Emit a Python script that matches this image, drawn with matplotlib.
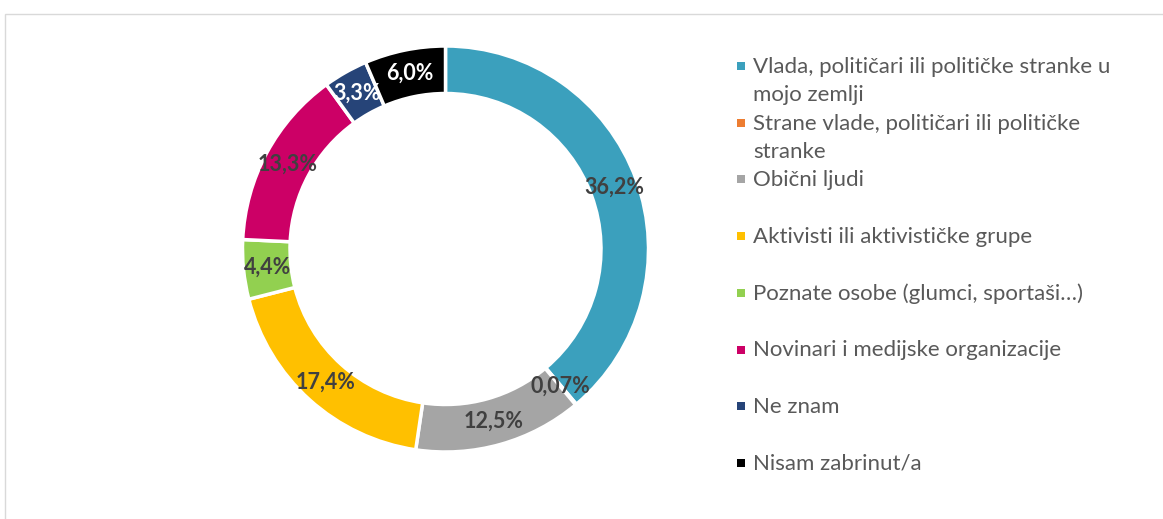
# -*- coding: utf-8 -*-
"""
donut chart - tko širi dezinformacije
"""
import matplotlib.pyplot as plt
from matplotlib.patches import Rectangle

labels = ["Vlada, političari ili političke stranke u\nmojo zemlji",
          "Strane vlade, političari ili političke\nstranke",
          "Obični ljudi",
          "Aktivisti ili aktivističke grupe",
          "Poznate osobe (glumci, sportaši…)",
          "Novinari i medijske organizacije",
          "Ne znam",
          "Nisam zabrinut/a"]
values = [36.2, 0.07, 12.5, 17.4, 4.4, 13.3, 3.3, 6.0]
value_labels = ["36,2%", "0,07%", "12,5%", "17,4%", "4,4%", "13,3%", "3,3%", "6,0%"]
colors = ["#3BA0BD", "#ED7D31", "#A5A5A5", "#FFC000", "#92D050",
          "#CC0066", "#264478", "#000000"]
label_colors = ["#404040"] * 6 + ["white", "white"]

plt.rcParams['font.family'] = ['Lato', 'DejaVu Sans']

W, H = 1163, 519
fig = plt.figure(figsize=(W / 100, H / 100), dpi=100)

# okvir grafikona (odrezan desno i dolje)
fig.patches.append(Rectangle((4.5 / W, -0.1), 1.2, 1.1 - 14.5 / H, transform=fig.transFigure,
                             fill=False, edgecolor="#D9D9D9", linewidth=1))

# krug
cx, cy, r = 445.5, 249, 203
ax = fig.add_axes([(cx - r) / W, 1 - (cy + r) / H, 2 * r / W, 2 * r / H])
wedges, texts = ax.pie(values, colors=colors, startangle=90, counterclock=False,
                       radius=1.0, labels=value_labels, labeldistance=0.883,
                       wedgeprops=dict(width=0.234, edgecolor="white", linewidth=2.5),
                       textprops=dict(fontsize=15.5, fontweight="bold"))
for t, c in zip(texts, label_colors):
    t.set_color(c)
    t.set_ha("center")
    t.set_va("center")
ax.set_xlim(-1, 1)
ax.set_ylim(-1, 1)
ax.set_aspect("equal")

# legenda
y0, step = 66, 56.7
for i, (lab, col) in enumerate(zip(labels, colors)):
    y = y0 + i * step
    fig.patches.append(Rectangle(((741 - 4) / W, 1 - (y + 4) / H), 8 / W, 8 / H,
                                 transform=fig.transFigure, facecolor=col, edgecolor="none"))
    fig.text(753 / W, 1 - (y - 9) / H, lab, fontsize=16, color="#595959",
             ha="left", va="top", linespacing=1.5)

plt.savefig("out.png", dpi=100)
